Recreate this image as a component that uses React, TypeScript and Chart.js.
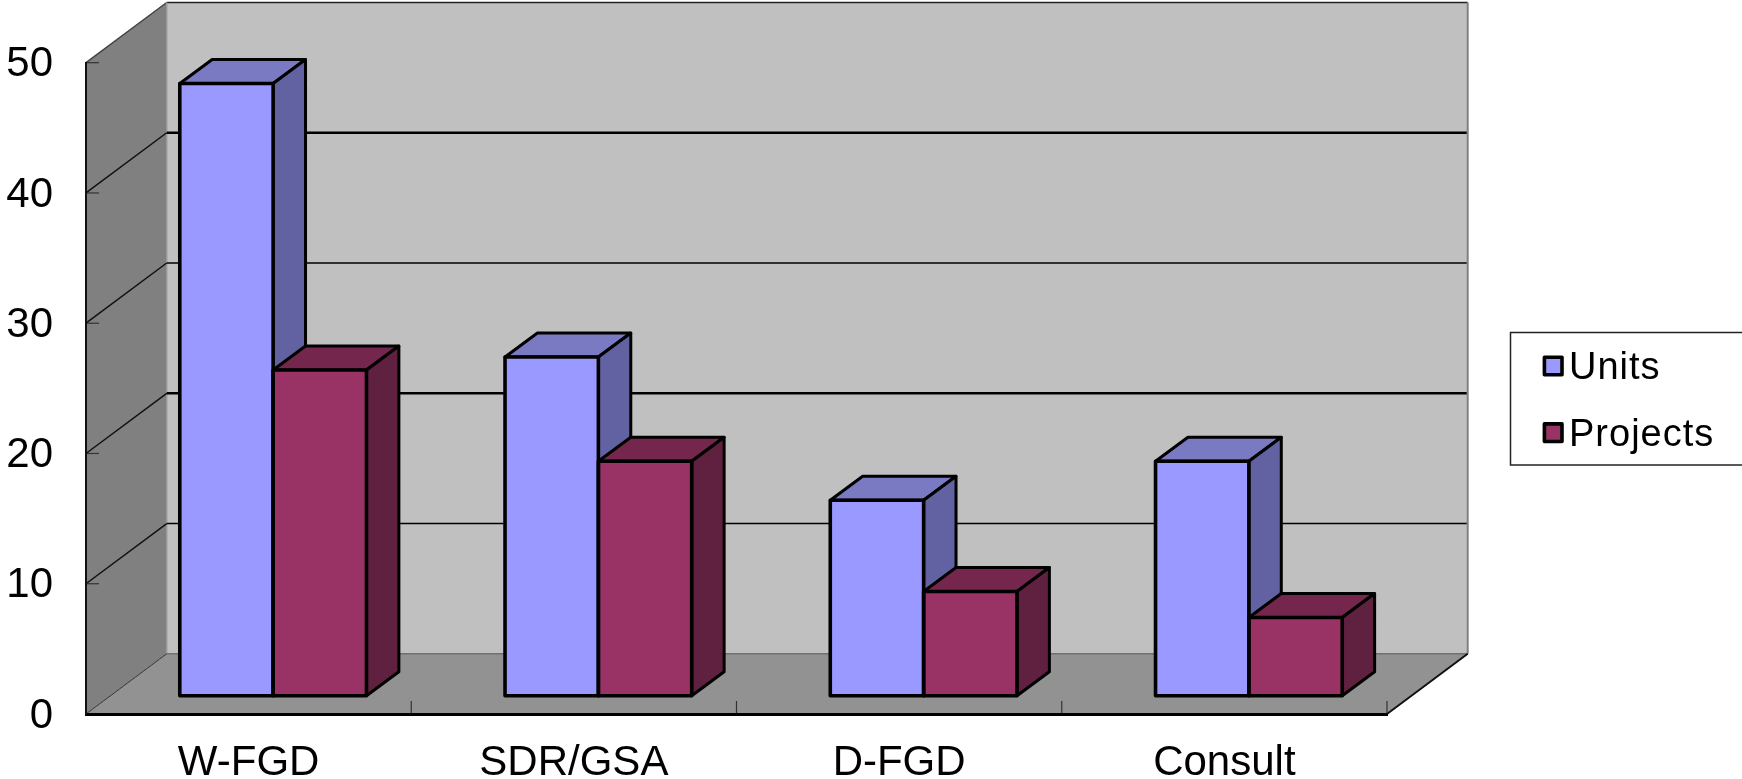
import React, { useEffect, useRef } from "react";
import { Chart, registerables } from "chart.js";

Chart.register(...registerables);

// Values per flue-gas technology
const categories = ["W-FGD", "SDR/GSA", "D-FGD", "Consult"];
const unitsValues = [47, 26, 15, 18];
const projectsValues = [25, 18, 8, 6];

const seriesNames = ["Units", "Projects"];
const frontColors = ["#9999FF", "#993366"];
const topColors = ["#7A7AC2", "#74264D"];
const sideColors = ["#6262A3", "#602040"];

const WIDTH = 1742;
const HEIGHT = 779;
const FONT = "'Liberation Sans', Arial, sans-serif";

// Perspective offsets: whole box depth, bar plane offset, and bar depth
const WALL_DX = 80.7;
const WALL_DY = -60.2;
const BAR_DX = 24.5;
const BAR_DY = -18.3;
const DEPTH_DX = 32.4;
const DEPTH_DY = -24;

function poly(ctx: CanvasRenderingContext2D, pts: number[][], fill?: string, stroke?: string, width = 1) {
  ctx.beginPath();
  pts.forEach(([x, y], i) => (i ? ctx.lineTo(x, y) : ctx.moveTo(x, y)));
  ctx.closePath();
  if (fill) {
    ctx.fillStyle = fill;
    ctx.fill();
  }
  if (stroke) {
    ctx.strokeStyle = stroke;
    ctx.lineWidth = width;
    ctx.lineJoin = "round";
    ctx.stroke();
  }
}

function line(ctx: CanvasRenderingContext2D, x1: number, y1: number, x2: number, y2: number, color: string, width: number) {
  ctx.beginPath();
  ctx.moveTo(x1, y1);
  ctx.lineTo(x2, y2);
  ctx.strokeStyle = color;
  ctx.lineWidth = width;
  ctx.stroke();
}

const box3d = {
  id: "box3d",
  beforeDraw(chart: any) {
    const { ctx, chartArea, scales } = chart;
    const { left, right, top, bottom } = chartArea;
    const yS = scales.y;
    const xS = scales.x;
    ctx.save();

    // Walls and floor
    poly(ctx, [[left + WALL_DX, top + WALL_DY], [right + WALL_DX, top + WALL_DY], [right + WALL_DX, bottom + WALL_DY], [left + WALL_DX, bottom + WALL_DY]], "#C0C0C0");
    poly(ctx, [[left, top], [left + WALL_DX, top + WALL_DY], [left + WALL_DX, bottom + WALL_DY], [left, bottom]], "#808080");
    poly(ctx, [[left, bottom], [left + WALL_DX, bottom + WALL_DY], [right + WALL_DX, bottom + WALL_DY], [right, bottom]], "#929292");

    // Wall edges
    line(ctx, left + WALL_DX, top + WALL_DY, right + WALL_DX, top + WALL_DY, "#222222", 1.5);
    line(ctx, left, top, left + WALL_DX, top + WALL_DY, "#444444", 1.5);
    line(ctx, right + WALL_DX, top + WALL_DY, right + WALL_DX, bottom + WALL_DY, "#808080", 2);
    line(ctx, left + WALL_DX, top + WALL_DY, left + WALL_DX, bottom + WALL_DY, "#9A9A9A", 1.5);
    line(ctx, left + WALL_DX, bottom + WALL_DY, right + WALL_DX, bottom + WALL_DY, "#707070", 1.5);
    line(ctx, right, bottom, right + WALL_DX, bottom + WALL_DY, "#111111", 2);

    // Gridlines wrap from the left wall onto the back wall
    yS.ticks.forEach((t: any) => {
      const y = yS.getPixelForValue(t.value);
      if (t.value > 0 && t.value < 50) {
        const w = t.value % 20 === 0 ? 2.4 : 1.4;
        line(ctx, left + WALL_DX, y + WALL_DY, right + WALL_DX - 1, y + WALL_DY, "#000000", w);
        line(ctx, left, y, left + WALL_DX, y + WALL_DY, "#111111", 1.5);
      }
      if (t.value === 0) {
        line(ctx, left, y, left + WALL_DX, y + WALL_DY, "#333333", 1);
      }
      line(ctx, left, y, left + 13, y, "#333333", 1.2);
    });

    // Short category separators standing on the front edge
    for (let i = 1; i <= categories.length; i++) {
      const x = xS.getPixelForValue(i - 0.5);
      line(ctx, x, bottom, x, bottom - 13, "#333333", 1.2);
    }

    // Legend panel, running off the right side of the canvas
    ctx.strokeStyle = "#222222";
    ctx.lineWidth = 1.5;
    ctx.strokeRect(1510.5, 332.5, 260, 132.5);
    const rows = [366, 432.7];
    seriesNames.forEach((name, i) => {
      ctx.fillStyle = frontColors[i];
      ctx.strokeStyle = "#000000";
      ctx.lineWidth = 3.6;
      ctx.lineJoin = "round";
      ctx.fillRect(1544.4, rows[i] - 8.8, 17.6, 17.6);
      ctx.strokeRect(1544.4, rows[i] - 8.8, 17.6, 17.6);
      ctx.fillStyle = "#000000";
      ctx.font = `38px ${FONT}`;
      ctx.textAlign = "left";
      ctx.textBaseline = "middle";
      (ctx as any).letterSpacing = "1px";
      ctx.fillText(name, 1569, rows[i] + 3);
      (ctx as any).letterSpacing = "0px";
    });
    ctx.restore();
  },
  // Top and side faces go down first, Units before Projects, so that a
  // Projects front covers the side of the Units bar beside it.
  beforeDatasetsDraw(chart: any) {
    const { ctx } = chart;
    ctx.save();
    ctx.translate(BAR_DX, BAR_DY);
    seriesNames.forEach((_, i) => {
      chart.getDatasetMeta(i).data.forEach((el: any) => {
        const l = el.x - el.width / 2;
        const r = el.x + el.width / 2;
        poly(ctx, [[l, el.y], [l + DEPTH_DX, el.y + DEPTH_DY], [r + DEPTH_DX, el.y + DEPTH_DY], [r, el.y]], topColors[i], "#000000", 3);
        poly(ctx, [[r, el.y], [r + DEPTH_DX, el.y + DEPTH_DY], [r + DEPTH_DX, el.base + DEPTH_DY], [r, el.base]], sideColors[i], "#000000", 3);
      });
    });
    ctx.restore();
  },
  beforeDatasetDraw(chart: any) {
    chart.ctx.save();
    chart.ctx.translate(BAR_DX, BAR_DY);
  },
  afterDatasetDraw(chart: any) {
    chart.ctx.restore();
  },
  afterDatasetsDraw(chart: any) {
    const { ctx } = chart;
    ctx.save();
    ctx.translate(BAR_DX, BAR_DY);
    seriesNames.forEach((_, i) => {
      chart.getDatasetMeta(i).data.forEach((el: any) => {
        const l = el.x - el.width / 2;
        const r = el.x + el.width / 2;
        poly(ctx, [[l, el.y], [r, el.y], [r, el.base], [l, el.base]], undefined, "#000000", 3.6);
      });
    });
    ctx.restore();
  },
};

export default function App() {
  const ref = useRef<HTMLCanvasElement | null>(null);

  useEffect(() => {
    const chart = new Chart(ref.current as HTMLCanvasElement, {
      type: "bar",
      data: {
        labels: categories,
        datasets: [
          { label: seriesNames[0], data: unitsValues, backgroundColor: frontColors[0], clip: false },
          { label: seriesNames[1], data: projectsValues, backgroundColor: frontColors[1], clip: false },
        ] as any,
      },
      options: {
        animation: false,
        responsive: false,
        events: [],
        layout: { padding: { top: 62.7, right: WIDTH - 1387, left: 0, bottom: 0 } },
        datasets: { bar: { categoryPercentage: 0.574, barPercentage: 1, borderWidth: 0 } },
        plugins: { legend: { display: false }, tooltip: { enabled: false }, title: { display: false } },
        scales: {
          x: {
            afterFit: (s: any) => {
              s.height = HEIGHT - 714;
            },
            grid: { display: false, drawTicks: false },
            border: { display: true, color: "#000000", width: 3 },
            ticks: { color: "#000000", font: { family: FONT, size: 42 }, padding: 24, maxRotation: 0 },
          },
          y: {
            min: 0,
            max: 50,
            afterFit: (s: any) => {
              s.width = 86;
            },
            grid: { display: false, drawTicks: false },
            border: { display: true, color: "#111111", width: 2 },
            ticks: { stepSize: 10, color: "#000000", font: { family: FONT, size: 42 }, padding: 33, labelOffset: 2 },
          },
        },
      },
      plugins: [box3d],
    } as any);
    return () => chart.destroy();
  }, []);

  return (
    <div style={{ position: "absolute", left: 0, top: 0, width: WIDTH, height: HEIGHT, overflow: "hidden", background: "#FFFFFF" }}>
      <canvas ref={ref} width={WIDTH} height={HEIGHT} style={{ display: "block" }} />
    </div>
  );
}
